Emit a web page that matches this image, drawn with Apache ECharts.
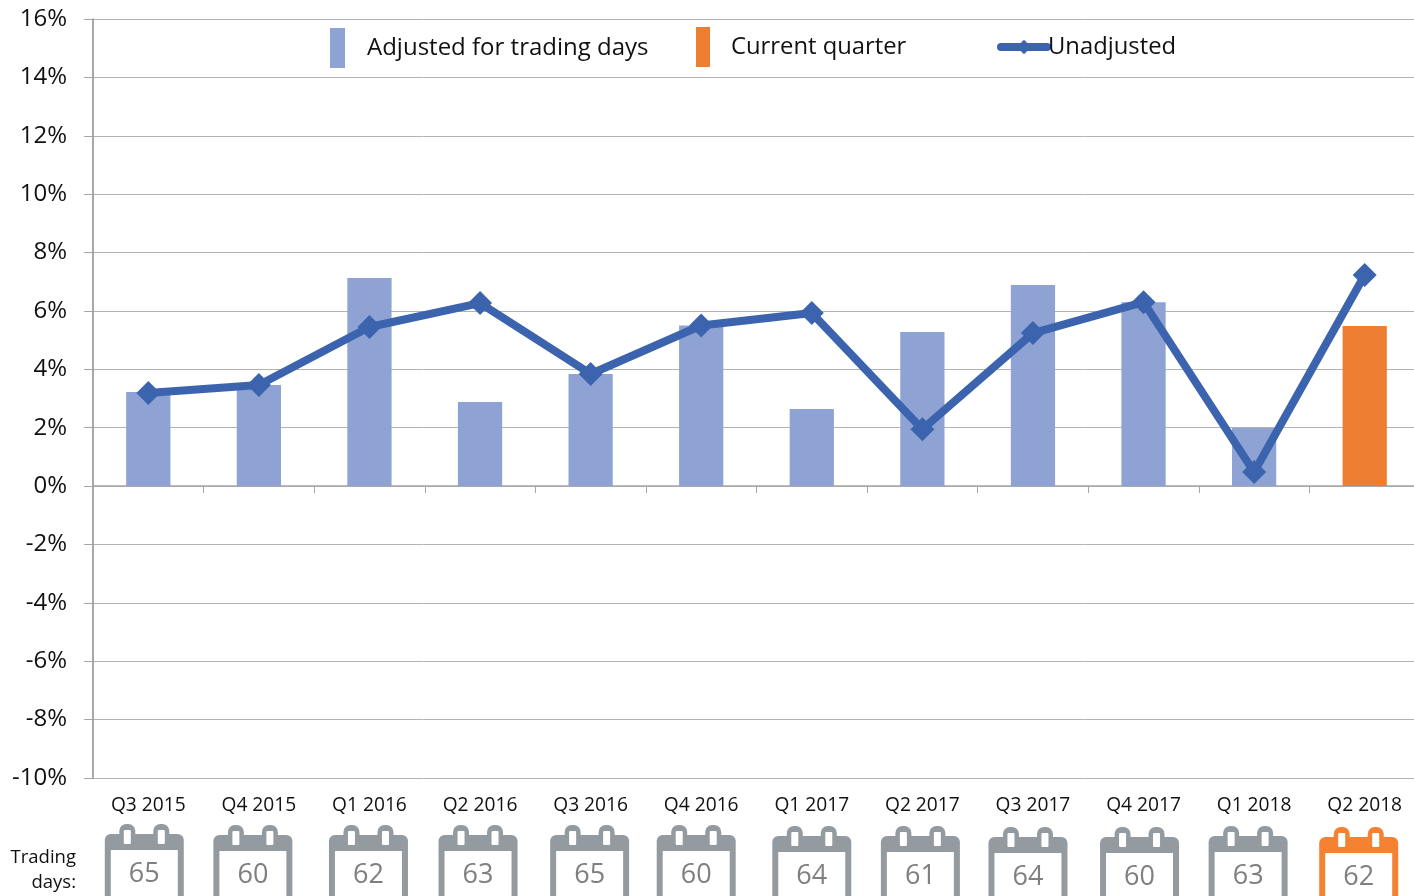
<!DOCTYPE html>
<html><head><meta charset="utf-8">
<style>html,body{margin:0;padding:0;background:#fff;overflow:hidden}#c{width:1414px;height:896px}</style>
<script src="https://cdn.jsdelivr.net/npm/echarts@6/dist/echarts.min.js"></script>
</head><body><div id="c"></div>
<script>
const quarters = ['Q3 2015','Q4 2015','Q1 2016','Q2 2016','Q3 2016','Q4 2016','Q1 2017','Q2 2017','Q3 2017','Q4 2017','Q1 2018','Q2 2018'];
const adjusted = [3.22,3.46,7.13,2.88,3.84,5.5,2.64,5.28,6.89,6.3,1.99,null];
const current = [null,null,null,null,null,null,null,null,null,null,null,5.48];
const unadjusted = [3.19,3.46,5.45,6.27,3.84,5.5,5.93,1.95,5.24,6.3,0.48,7.23];
const tradingDays = [65,60,62,63,65,60,64,61,64,60,63,62];
const iconShiftX = [-4,-6,-1,-2,-1,-5,0,-2,-5,-4,-6,-6];
const iconShiftY = [0,1,1,1,1,1,2,2,3,3,2,3];
const FONT = '"Open Sans"';
const chart = echarts.init(document.getElementById('c'), null, {renderer:'canvas'});

function calendar(params, api) {
  const i = api.value(0);
  const cx = api.coord([i, 0])[0] + iconShiftX[i];
  const dy = iconShiftY[i];
  const isCur = i === quarters.length - 1;
  const col = isCur ? '#F58232' : '#939AA0';
  const top = 824 + dy;
  const ring = (off) => [
    {type:'rect', shape:{x:cx+off-8, y:top, width:16, height:22, r:[7,7,0,0]}, style:{fill:col}},
    {type:'rect', shape:{x:cx+off-3.5, y:top+6, width:7, height:14, r:1}, style:{fill:'#fff'}}
  ];
  return {type:'group', children:[
    {type:'rect', shape:{x:cx-39.5, y:top+10, width:79, height:70, r:[6,6,0,0]}, style:{fill:col}},
    ...ring(-17), ...ring(17),
    {type:'rect', shape:{x:cx-33.5, y:top+26, width:67, height:60}, style:{fill:'#fff'}},
    {type:'text', style:{x:cx, y:top+50, text:String(api.value(1)), fill:'#7F7F7F', font:'27px '+FONT, textAlign:'center', textVerticalAlign:'middle'}}
  ]};
}

chart.setOption({
  animation:false,
  backgroundColor:'#fff',
  textStyle:{fontFamily:FONT},
  grid:{left:93, top:19, width:1327, height:759, containLabel:false, outerBoundsMode:'none'},
  legend:[
    {data:[{name:'Adjusted for trading days', icon:'rect'}], left:330, top:28, padding:0, itemWidth:15, itemHeight:40,
     textStyle:{fontSize:24, color:'#111', fontFamily:FONT, padding:[8,0,0,17]}},
    {data:[{name:'Current quarter', icon:'rect'}], left:696, top:27, padding:0, itemWidth:14, itemHeight:40,
     textStyle:{fontSize:23.8, color:'#111', fontFamily:FONT, padding:[8,0,0,16]}},
    {data:['Unadjusted'], left:997, top:35, padding:0, itemWidth:46, itemHeight:18, lineStyle:{width:8, cap:'round'},
     textStyle:{fontSize:23.8, color:'#111', fontFamily:FONT, padding:[2,0,0,-4]}}
  ],
  xAxis:{type:'category', data:quarters, boundaryGap:true,
    axisLine:{onZero:true, lineStyle:{color:'#A6A6A6', width:1.5}},
    axisTick:{show:true, alignWithLabel:false, length:7, lineStyle:{color:'#A6A6A6'}},
    axisLabel:{interval:0, margin:18, fontSize:19.2, color:'#111', fontFamily:FONT, hideOverlap:false}
  },
  yAxis:{type:'value', min:-10, max:16, interval:2,
    axisLine:{show:true, lineStyle:{color:'#8C8C8C', width:1.5}},
    axisTick:{show:true, length:9, lineStyle:{color:'#A6A6A6'}},
    axisLabel:{formatter:'{value}%', margin:26, fontSize:24, color:'#111', fontFamily:FONT},
    splitLine:{show:true, lineStyle:{color:'#B3B3B3', width:1}}
  },
  series:[
    {name:'Adjusted for trading days', type:'bar', stack:'b', data:adjusted, barWidth:'40%', itemStyle:{color:'#8FA2D4'}, z:2},
    {name:'Current quarter', type:'bar', stack:'b', data:current, barWidth:'40%', itemStyle:{color:'#ED7D31'}, z:2},
    {name:'Unadjusted', type:'line', data:unadjusted, symbol:'diamond', symbolSize:24, showSymbol:true,
     lineStyle:{color:'#3C64AE', width:8}, itemStyle:{color:'#3C64AE'}, z:5},
    {name:'Trading days', type:'custom', renderItem:calendar, clip:false, silent:true, z:6,
     encode:{x:0,y:1}, data:tradingDays.map((d,i)=>[i,d])}
  ],
  graphic:[{type:'text', x:76, y:845, style:{text:'Trading\ndays:', font:'18.5px '+FONT, fill:'#111', align:'right', lineHeight:25}}]
});
</script></body></html>
